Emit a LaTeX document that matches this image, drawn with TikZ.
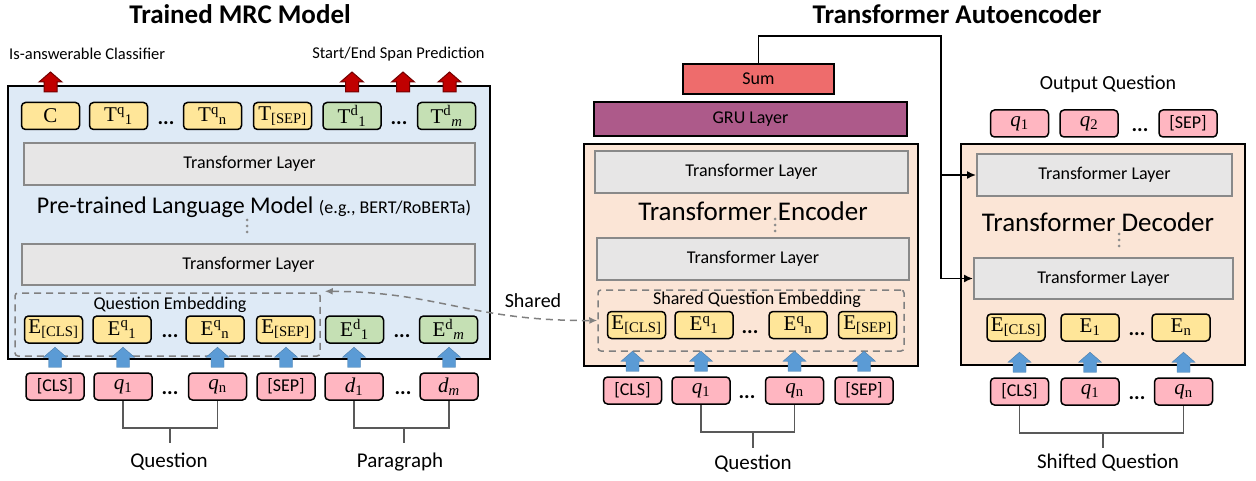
\documentclass[tikz,border=0pt]{standalone}
\usepackage{fontspec}
\setmainfont{Carlito}
\newfontfamily\tokfont{Liberation Serif}
\usetikzlibrary{calc,arrows.meta}
\definecolor{bluebg}{RGB}{222,234,246}
\definecolor{peach}{RGB}{251,229,214}
\definecolor{tokY}{RGB}{255,230,153}
\definecolor{tokG}{RGB}{197,224,180}
\definecolor{tokP}{RGB}{255,182,193}
\definecolor{layerfill}{RGB}{231,230,230}
\definecolor{layerdraw}{RGB}{137,137,137}
\definecolor{sumfill}{RGB}{238,108,108}
\definecolor{grufill}{RGB}{173,90,138}
\definecolor{arrblue}{RGB}{91,155,213}
\definecolor{arrred}{RGB}{192,0,0}
\definecolor{dashgray}{RGB}{128,128,128}
\definecolor{brk}{RGB}{89,89,89}
\newcommand\tokT[2]{{\tokfont T\textsuperscript{#1}\textsubscript{#2}}}
\newcommand\tokE[2]{{\tokfont E\textsuperscript{#1}\textsubscript{#2}}}
\newcommand\qtok[2]{{\tokfont\fontsize{21}{22}\selectfont{\itshape #1}\textsubscript{#2}}}
\newcommand\blkarrow[2]{%
  \begin{scope}[shift={#2}]
    \filldraw[#1] (-6.5,0) -- (-6.5,-10) -- (-11.5,-10) -- (0,-20) -- (11.5,-10) -- (6.5,-10) -- (6.5,0) -- cycle;
  \end{scope}}
\tikzset{
  tok/.style={draw=black, line width=1.5pt, rounded corners=4pt, minimum height=27pt, minimum width=58pt, inner sep=0pt, font=\tokfont\fontsize{21}{22}\selectfont},
  ytok/.style={tok, fill=tokY},
  gtok/.style={tok, fill=tokG},
  ptok/.style={tok, fill=tokP, font=\fontsize{18}{20}\selectfont},
  layer/.style={draw=layerdraw, fill=layerfill, line width=2pt, inner sep=0pt, font=\fontsize{18}{20}\selectfont},
  panel/.style={draw=black, line width=2pt, inner sep=0pt},
  dotsnode/.style={font=\bfseries\fontsize{21}{21}\selectfont, inner sep=0pt},
  dashbox/.style={draw=dashgray, dash pattern=on 7pt off 5pt, line width=1.5pt, rounded corners=3pt, inner sep=0pt},
  bracket/.style={draw=brk, line width=1.2pt},
  barrow/.style={fill=arrblue, draw=arrblue!80!black, line width=0.4pt},
  rarrow/.style={fill=arrred, draw=arrred!60!black, line width=1pt},
  lbl/.style={font=\fontsize{#1}{#1}\selectfont, inner sep=0pt},
  ttl/.style={font=\bfseries\fontsize{27}{30}\selectfont, inner sep=0pt},
  vdot/.style={fill=black!45},
  conn/.style={draw=black, line width=1.6pt},
}
\begin{document}
\begin{tikzpicture}[x=1pt,y=-1pt]
\useasboundingbox (0,0) rectangle (1256,481);
% ---------------- Left panel ----------------
\node[ttl] (t1) at (240,14) {Trained MRC Model};
\node[lbl=16.5, anchor=west] (cls-lab) at (9,54) {Is-answerable Classifier};
\node[lbl=16.5] (span-lab) at (398.5,54) {Start/End Span Prediction};
\node[panel, fill=bluebg, minimum width=482, minimum height=273] (mrc) at (249,222.5) {};
% top tokens
\node[ytok] (tc) at (50.5,116) {C};
\node[ytok] (tq1) at (118.5,116) {\tokT{q}{1}};
\node[dotsnode] (tdots1) at (166,123) {...};
\node[ytok] (tqn) at (212.5,116) {\tokT{q}{n}};
\node[ytok] (tsep) at (282.5,116) {{\tokfont T\textsubscript{[SEP]}}};
\node[gtok] (td1) at (352,116) {\tokT{d}{1}};
\node[dotsnode] (tdots2) at (399,123) {...};
\node[gtok] (tdm) at (446.5,116) {\tokT{d}{\itshape m}};
% red arrows
\blkarrow{rarrow}{($(tc.north |- mrc.north)+(0,7)$)}
\blkarrow{rarrow}{($(td1.north |- mrc.north)+(0,7)$)}
\blkarrow{rarrow}{($(tdots2.north |- mrc.north)+(4,7)$)}
\blkarrow{rarrow}{($(tdm.north |- mrc.north)+(3,7)$)}
% layers
\node[layer, minimum width=451, minimum height=42] (ltl1) at (249.5,164) {Transformer Layer};
\node[lbl=24] (plm) at (254,207) {Pre-trained Language Model {\fontsize{18}{20}\selectfont(e.g., BERT/RoBERTa)}};
\foreach \yy in {220,226,232} \fill[vdot] (247,\yy) circle (1.5);
\node[layer, minimum width=453, minimum height=41] (ltl2) at (248.5,264.5) {Transformer Layer};
% question embedding
\node[dashbox, minimum width=305, minimum height=63] (qemb) at (167.5,324.5) {};
\node[lbl=18] (qemb-lab) at (170,305) {Question Embedding};
\node[ytok] (ecls) at (53.5,329.5) {{\tokfont E\textsubscript{[CLS]}}};
\node[ytok] (eq1) at (122,329.5) {\tokE{q}{1}};
\node[dotsnode] (edots1) at (170,336) {...};
\node[ytok] (eqn) at (215,329.5) {\tokE{q}{n}};
\node[ytok] (esep) at (285.5,329.5) {{\tokfont E\textsubscript{[SEP]}}};
\node[gtok] (ed1) at (354.5,329.5) {\tokE{d}{1}};
\node[dotsnode] (edots2) at (402,336) {...};
\node[gtok] (edm) at (448.5,329.5) {\tokE{d}{\itshape m}};
% inputs
\node[ptok] (icls) at (55,386.5) {[CLS]};
\node[ptok] (iq1) at (123,386.5) {\qtok{q}{1}};
\node[dotsnode] (idots1) at (170,393) {...};
\node[ptok] (iqn) at (217.5,386.5) {\qtok{q}{n}};
\node[ptok] (isep) at (286,386.5) {[SEP]};
\node[ptok] (id1) at (354,386.5) {\qtok{d}{1}};
\node[dotsnode] (idots2) at (403,393) {...};
\node[ptok] (idm) at (449,386.5) {\qtok{d}{\itshape m}};
\foreach \n in {icls,iq1,iqn,isep,id1,idm}
  \blkarrow{barrow}{($(\n.north)+(0,-5)$)}
% brackets
\coordinate (qb) at (170,428);
\coordinate (pb) at (404,428);
\draw[bracket] (iq1.south) |- (qb) -| (iqn.south);
\draw[bracket] (qb) -- ++(0,15);
\draw[bracket] (id1.south) |- (pb) -| (idm.south);
\draw[bracket] (pb) -- ++(0,15);
\node[lbl=21] (qlab) at (169,462) {Question};
\node[lbl=21] (plab) at (400,462) {Paragraph};
% ---------------- Middle panel ----------------
\node[ttl] (t2) at (957,14) {Transformer Autoencoder};
\node[draw=black, line width=2pt, fill=sumfill, minimum width=151, minimum height=30, inner sep=0pt, font=\fontsize{18}{20}\selectfont] (sum) at (758.5,79) {Sum};
\node[draw=black, line width=2pt, fill=grufill, minimum width=313, minimum height=34, inner sep=0pt, font=\fontsize{18}{20}\selectfont] (gru) at (750.5,119) {GRU Layer};
\node[panel, fill=peach, minimum width=334, minimum height=222] (enc) at (751,255) {};
\node[layer, minimum width=313, minimum height=42] (etl1) at (751.5,172) {Transformer Layer};
\node[lbl=27] (enc-lab) at (753,211) {Transformer Encoder};
\foreach \yy in {219,225,231} \fill[vdot] (775,\yy) circle (1.5);
\node[layer, minimum width=312, minimum height=42] (etl2) at (753,259) {Transformer Layer};
\node[dashbox, minimum width=306, minimum height=61] (sqemb) at (751,320.5) {};
\node[lbl=18] (sqemb-lab) at (757,300) {Shared Question Embedding};
\node[ytok] (mecls) at (636.5,325) {{\tokfont E\textsubscript{[CLS]}}};
\node[ytok] (meq1) at (704,325) {\tokE{q}{1}};
\node[dotsnode] (medots) at (750,332) {...};
\node[ytok] (meqn) at (798,325) {\tokE{q}{n}};
\node[ytok] (mesep) at (867.5,325) {{\tokfont E\textsubscript{[SEP]}}};
\node[ptok] (micls) at (632.5,390.5) {[CLS]};
\node[ptok] (miq1) at (701,390.5) {\qtok{q}{1}};
\node[dotsnode] (midots) at (747,397) {...};
\node[ptok] (miqn) at (794.5,390.5) {\qtok{q}{n}};
\node[ptok] (misep) at (864,390.5) {[SEP]};
\foreach \n in {micls,miq1,miqn,misep}
  \blkarrow{barrow}{($(\n.north)+(0,-5)$)}
\coordinate (mqb) at (753,432);
\draw[bracket] (miq1.south) |- (mqb) -| (miqn.south);
\draw[bracket] (mqb) -- ++(0,16);
\node[lbl=21] (mqlab) at (753,464) {Question};
% shared connector
\draw[dashgray, dash pattern=on 7pt off 5pt, line width=1.5pt, {Latex[length=8pt,width=7pt]}-{Latex[length=8pt,width=7pt]}]
  ($(qemb.north east)+(4,-1)$) .. controls (440,292) and (470,321) .. (sqemb.west);
\node[lbl=20] (shared-lab) at (533,301) {Shared};
% ---------------- Right panel ----------------
\node[lbl=20] (oq-lab) at (1108,84) {Output Question};
\node[ptok] (oq1) at (1019.5,123.5) {\qtok{q}{1}};
\node[ptok] (oq2) at (1089,123.5) {\qtok{q}{2}};
\node[dotsnode] (odots) at (1140,130) {...};
\node[ptok] (osep) at (1188,123.5) {[SEP]};
\node[panel, fill=peach, minimum width=284, minimum height=221] (dec) at (1103,254.5) {};
\node[layer, minimum width=255, minimum height=42] (dtl1) at (1104.5,175) {Transformer Layer};
\node[lbl=27] (dec-lab) at (1098,222) {Transformer Decoder};
\foreach \yy in {234,240,246} \fill[vdot] (1119,\yy) circle (1.5);
\node[layer, minimum width=259, minimum height=41] (dtl2) at (1103.5,278.5) {Transformer Layer};
\node[ytok] (decls) at (1016,327.5) {{\tokfont E\textsubscript{[CLS]}}};
\node[ytok] (de1) at (1090,327.5) {{\tokfont E\textsubscript{1}}};
\node[dotsnode] (dedots) at (1137,334) {...};
\node[ytok] (den) at (1181,327.5) {{\tokfont E\textsubscript{n}}};
\node[ptok] (dicls) at (1019.5,391.5) {[CLS]};
\node[ptok] (diq1) at (1090,391.5) {\qtok{q}{1}};
\node[dotsnode] (didots) at (1137,398) {...};
\node[ptok] (diqn) at (1183.5,391.5) {\qtok{q}{n}};
\foreach \n in {dicls,diq1,diqn}
  \blkarrow{barrow}{($(\n.north)+(0,-5)$)}
\coordinate (dqb) at (1103,433);
\draw[bracket] (dicls.south) |- (dqb) -| (diqn.south);
\draw[bracket] (dqb) -- ++(0,15);
\node[lbl=21] (dqlab) at (1108,463) {Shifted Question};
% Sum -> decoder
\coordinate (turn) at (941,36);
\draw[conn, -{Latex[length=9pt,width=8pt]}] (sum.north) |- (turn) |- (dtl2.west);
\draw[conn, -{Latex[length=9pt,width=8pt]}] (turn |- dtl1.west) -- (dtl1.west);
\end{tikzpicture}
\end{document}
